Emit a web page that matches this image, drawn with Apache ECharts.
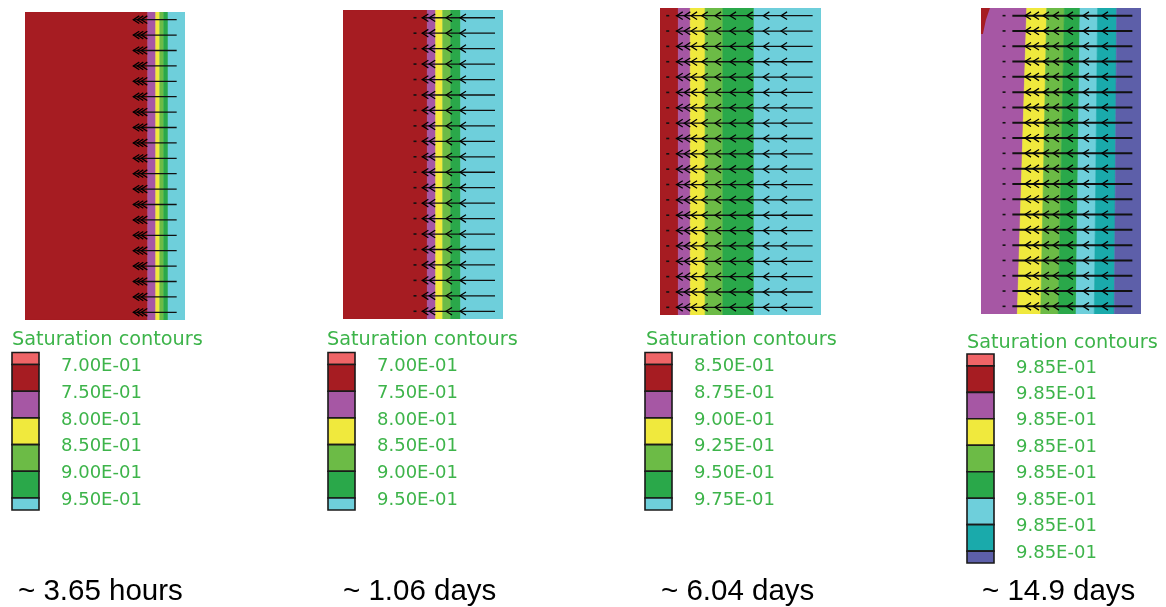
<!DOCTYPE html>
<html><head><meta charset="utf-8">
<script src="https://cdn.jsdelivr.net/npm/echarts@6/dist/echarts.min.js"></script>
<style>html,body{margin:0;padding:0;background:#fff}#c{width:1166px;height:607px}</style>
</head><body><div id="c"></div>
<script>
// ---------- DATA ----------
const COLORS = {pink:'#ef6467', red:'#a61c22', purple:'#a657a4', yellow:'#f0e93d', lgreen:'#6cbb46',
  green:'#2aa84a', cyan:'#6ecfdb', teal:'#1aaaab', blue:'#5d5fa9'};

// arrow rows (fraction of map height)
const rowY = [0.025,0.075,0.125,0.175,0.225,0.275,0.325,0.375,0.425,0.475,
              0.525,0.575,0.625,0.675,0.725,0.775,0.825,0.875,0.925,0.975];

// saturation band boundaries (fraction of map width), top and bottom of the map
const p1Colors = ['red','purple','yellow','lgreen','green','cyan'];
const p1EdgesTop = [0.767,0.817,0.842,0.867,0.894];
const p1EdgesBot = [0.767,0.817,0.842,0.867,0.894];
const p2Colors = ['red','purple','yellow','lgreen','green','cyan'];
const p2EdgesTop = [0.527,0.579,0.623,0.673,0.735];
const p2EdgesBot = [0.527,0.579,0.623,0.673,0.735];
const p3Colors = ['red','purple','yellow','lgreen','green','cyan'];
const p3EdgesTop = [0.114,0.188,0.280,0.390,0.584];
const p3EdgesBot = [0.114,0.188,0.280,0.390,0.584];
const p4Colors = ['purple','yellow','lgreen','green','cyan','teal','blue'];
const p4EdgesTop = [0.286,0.411,0.521,0.619,0.729,0.848];
const p4EdgesBot = [0.227,0.373,0.483,0.594,0.708,0.833];
const p4CornerX = [0,0.056,0.03,0.012,0];
const p4CornerY = [0,0,0.04,0.085,0.085];

// velocity arrows: head, tail, chevron tips, small dots (fraction of width)
const p1Arrow = {head:0.675, tail:0.948, chev:[0.677,0.702,0.727], dots:[]};
const p2Arrow = {head:0.492, tail:0.95, chev:[0.496,0.539,0.644,0.731], dots:[0.45]};
const p3Arrow = {head:0.098, tail:0.948, chev:[0.104,0.151,0.193,0.259,0.342,0.435,0.539,0.642,0.752], dots:[0.048]};
const p4Arrow = {head:0.196, tail:0.946, chev:[0.275,0.325,0.3875,0.45,0.5375,0.6375,0.756], dots:[0.144]};

// legends
const legendTitle = 'Saturation contours';
const lg1Colors = ['pink','red','purple','yellow','lgreen','green','cyan'];
const lg1Labels = ['7.00E-01','7.50E-01','8.00E-01','8.50E-01','9.00E-01','9.50E-01'];
const lg2Colors = ['pink','red','purple','yellow','lgreen','green','cyan'];
const lg2Labels = ['7.00E-01','7.50E-01','8.00E-01','8.50E-01','9.00E-01','9.50E-01'];
const lg3Colors = ['pink','red','purple','yellow','lgreen','green','cyan'];
const lg3Labels = ['8.50E-01','8.75E-01','9.00E-01','9.25E-01','9.50E-01','9.75E-01'];
const lg4Colors = ['pink','red','purple','yellow','lgreen','green','cyan','teal','blue'];
const lg4Labels = ['9.85E-01','9.85E-01','9.85E-01','9.85E-01','9.85E-01','9.85E-01','9.85E-01','9.85E-01'];

const captions = ['~ 3.65 hours','~ 1.06 days','~ 6.04 days','~ 14.9 days'];

// ---------- LAYOUT ----------
const mapBoxes = [
  {left:25, top:12, width:160, height:308},
  {left:343, top:10, width:160, height:309},
  {left:660, top:8, width:161, height:307},
  {left:981, top:8, width:160, height:306}
];
const legendBoxes = [
  {left:12, top:352.5, width:27, height:157.5},
  {left:328, top:352.5, width:27, height:157.5},
  {left:645, top:352.5, width:27, height:157.5},
  {left:967, top:354, width:27, height:209}
];
const titlePos = [[12,340],[327,340],[646,340],[967,343]];
const captionPos = [[18,592],[343,592],[661,592],[982,592]];
const TEXT_GREEN = '#3db44a';

const panels = [
  {colors:p1Colors, top:p1EdgesTop, bot:p1EdgesBot, arrow:p1Arrow, lw:1.3},
  {colors:p2Colors, top:p2EdgesTop, bot:p2EdgesBot, arrow:p2Arrow, lw:1.3},
  {colors:p3Colors, top:p3EdgesTop, bot:p3EdgesBot, arrow:p3Arrow, lw:1.3},
  {colors:p4Colors, top:p4EdgesTop, bot:p4EdgesBot, arrow:p4Arrow, lw:2}
];
const legends = [
  {colors:lg1Colors, labels:lg1Labels},
  {colors:lg2Colors, labels:lg2Labels},
  {colors:lg3Colors, labels:lg3Labels},
  {colors:lg4Colors, labels:lg4Labels}
];

const grid = [], xAxis = [], yAxis = [], series = [];
panels.forEach((p, i) => {
  grid.push(Object.assign({}, mapBoxes[i]));
  xAxis.push({type:'value', gridIndex:i, min:0, max:1, show:false});
  yAxis.push({type:'value', gridIndex:i, min:0, max:1, inverse:true, show:false});
  const n = p.colors.length;
  series.push({
    type:'custom', xAxisIndex:i, yAxisIndex:i, silent:true, clip:true,
    data:p.colors.map((c, k) => [k]),
    renderItem(params, api) {
      const k = params.dataIndex;
      const lt = k === 0 ? 0 : p.top[k-1], rt = k === n-1 ? 1 : p.top[k];
      const lb = k === 0 ? 0 : p.bot[k-1], rb = k === n-1 ? 1 : p.bot[k];
      const pts = [api.coord([lt,0]), api.coord([rt,0]), api.coord([rb,1]), api.coord([lb,1])];
      const col = COLORS[p.colors[k]];
      return {type:'polygon', shape:{points:pts}, style:{fill:col, stroke:col, lineWidth:0.6}};
    }
  });
  if (i === 3) {
    series.push({
      type:'custom', xAxisIndex:i, yAxisIndex:i, silent:true, clip:true,
      data:[[0]],
      renderItem(params, api) {
        const pts = p4CornerX.map((x, k) => api.coord([x, p4CornerY[k]]));
        return {type:'polygon', shape:{points:pts}, style:{fill:COLORS.red}};
      }
    });
  }
  const a = p.arrow;
  series.push({
    type:'custom', xAxisIndex:i, yAxisIndex:i, silent:true, clip:false,
    data:rowY.map(y => [a.head, y]),
    renderItem(params, api) {
      const y = rowY[params.dataIndex];
      const h = api.coord([a.head, y]), t = api.coord([a.tail, y]);
      const ch = [{type:'line', shape:{x1:h[0], y1:h[1], x2:t[0], y2:t[1]},
        style:{stroke:'#111', lineWidth:p.lw}}];
      a.chev.forEach(x => {
        const c = api.coord([x, y]);
        ch.push({type:'polyline', shape:{points:[[c[0]+6, c[1]-3.8],[c[0], c[1]],[c[0]+6, c[1]+3.8]]},
          style:{stroke:'#000', fill:null, lineWidth:1.25}});
      });
      a.dots.forEach(x => {
        const c = api.coord([x, y]);
        ch.push({type:'rect', shape:{x:c[0]-1.5, y:c[1]-0.8, width:3, height:1.6}, style:{fill:'#111'}});
      });
      return {type:'group', children:ch};
    }
  });
});

legends.forEach((lg, i) => {
  const gi = 4 + i;
  const nL = lg.labels.length, m = lg.colors.length;
  grid.push(Object.assign({}, legendBoxes[i]));
  xAxis.push({type:'value', gridIndex:gi, min:0, max:1, show:false});
  yAxis.push({type:'value', gridIndex:gi, min:-0.45, max:nL-1+0.45, inverse:true, show:false});
  series.push({
    type:'custom', xAxisIndex:gi, yAxisIndex:gi, silent:true, clip:false,
    data:lg.colors.map((c, j) => [0, j]),
    renderItem(params, api) {
      const j = params.dataIndex;
      const y0 = j === 0 ? -0.45 : j-1;
      const y1 = j === m-1 ? nL-1+0.45 : j;
      const a = api.coord([0, y0]), b = api.coord([1, y1]);
      const ch = [{type:'rect', shape:{x:a[0], y:a[1], width:b[0]-a[0], height:b[1]-a[1]},
        style:{fill:COLORS[lg.colors[j]], stroke:'#1a1a1a', lineWidth:1.6}}];
      if (j < nL) {
        const c = api.coord([1, j]);
        ch.push({type:'text', x:c[0]+22, y:c[1]+2,
          style:{text:lg.labels[j], fill:TEXT_GREEN, font:'18px "DejaVu Sans"',
            align:'left', verticalAlign:'middle', textAlign:'left', textVerticalAlign:'middle'}});
      }
      return {type:'group', children:ch};
    }
  });
});

const graphic = [];
titlePos.forEach(p => graphic.push({type:'text', x:p[0], y:p[1], silent:true,
  style:{text:legendTitle, fill:TEXT_GREEN, font:'19.3px "DejaVu Sans"',
    align:'left', verticalAlign:'middle', textAlign:'left', textVerticalAlign:'middle'}}));
captions.forEach((t, i) => graphic.push({type:'text', x:captionPos[i][0], y:captionPos[i][1], silent:true,
  style:{text:t, fill:'#000', font:'29.5px "Liberation Sans", Arial',
    align:'left', verticalAlign:'middle', textAlign:'left', textVerticalAlign:'middle'}}));

const chart = echarts.init(document.getElementById('c'), null, {renderer:'canvas'});
chart.setOption({animation:false, backgroundColor:'#fff', grid, xAxis, yAxis, series, graphic});
</script></body></html>
